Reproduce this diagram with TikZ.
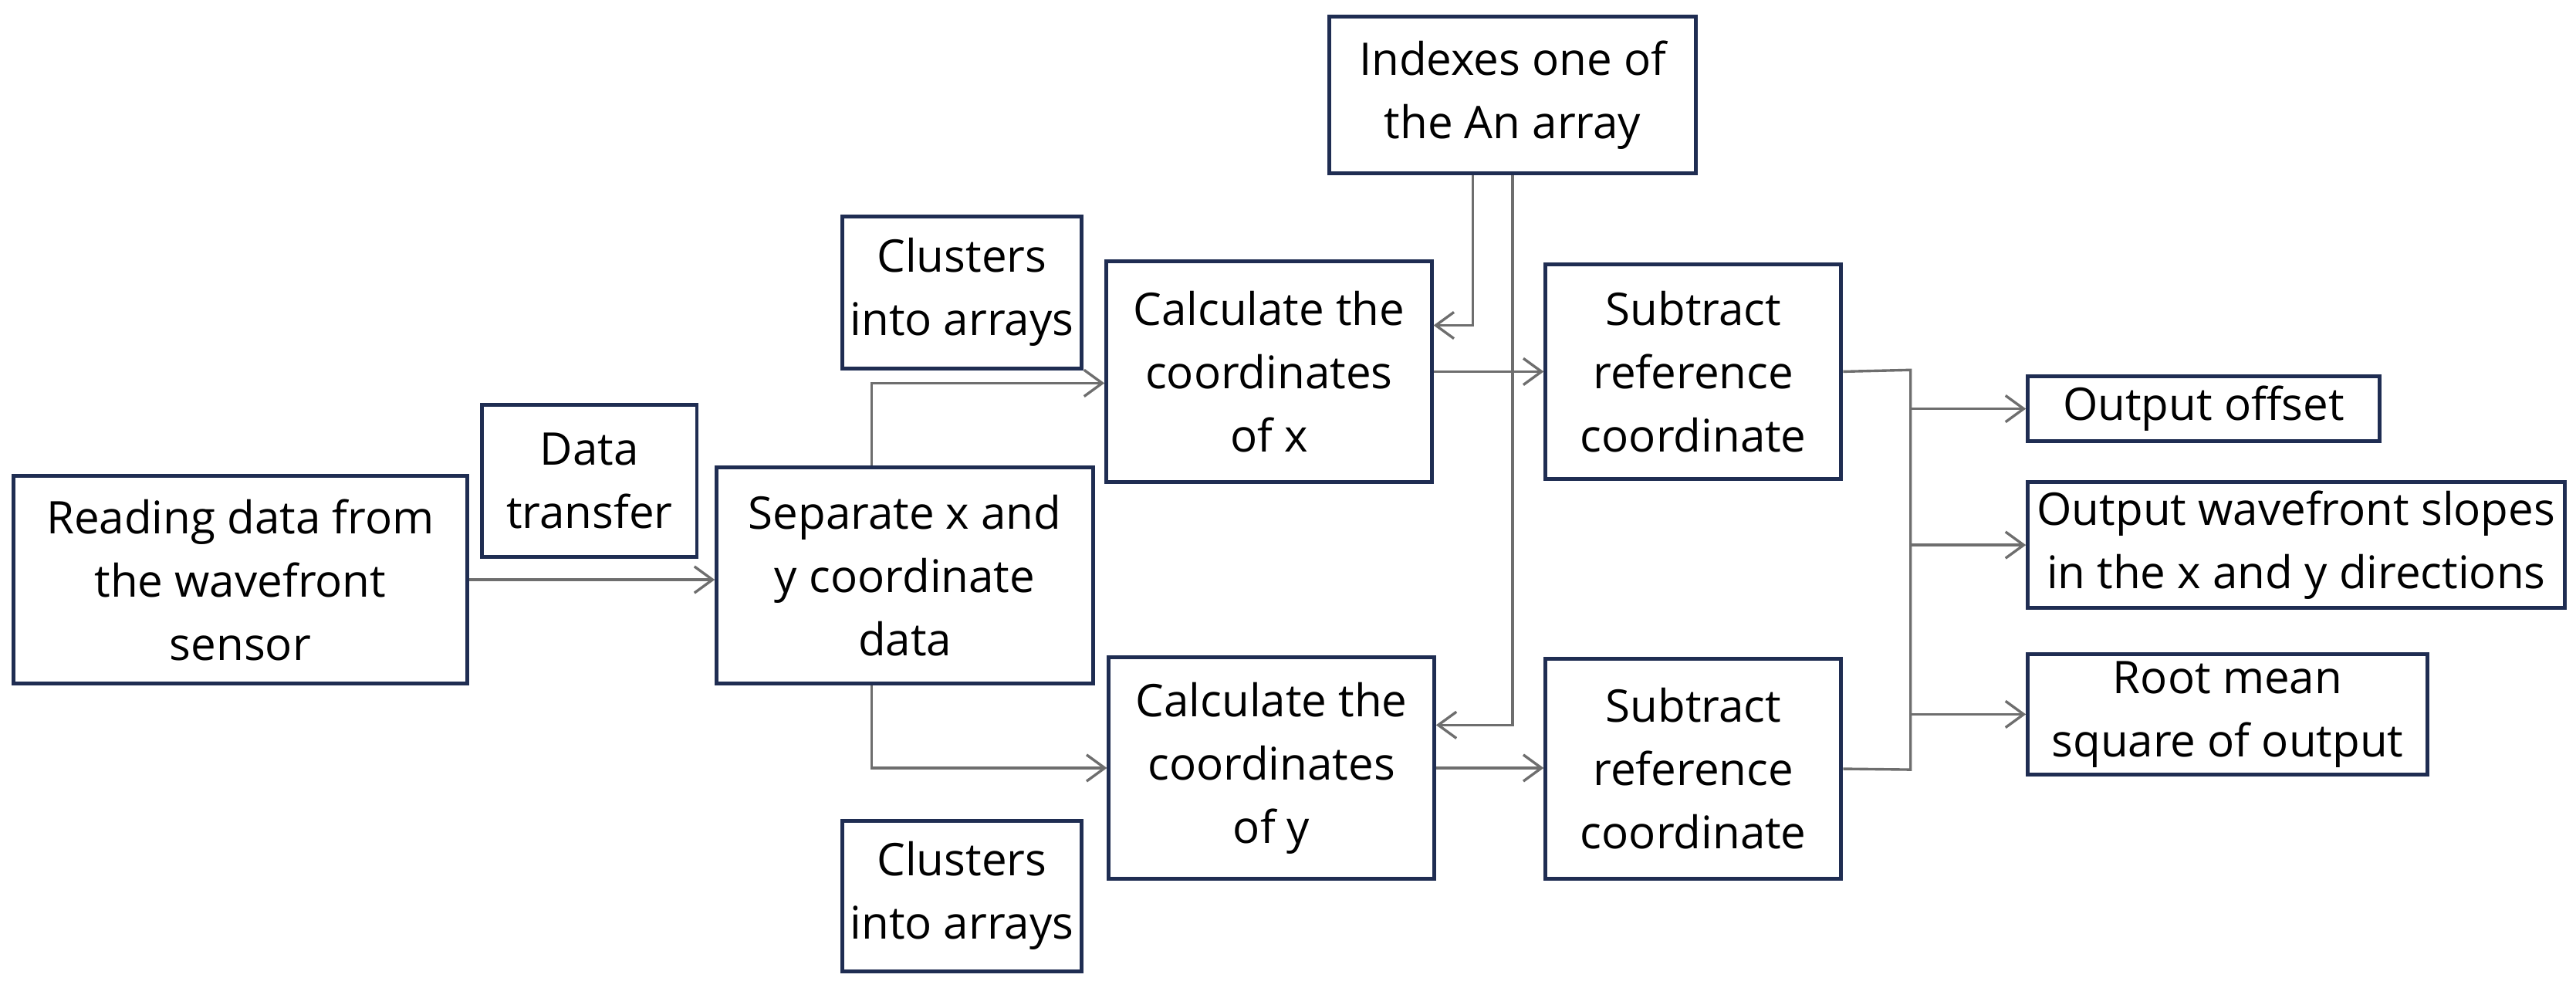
\documentclass[tikz,border=0pt]{standalone}
\usepackage{fontspec}
\setmainfont{Open Sans}
\usepackage{xcolor}
\usetikzlibrary{shapes, arrows.meta, positioning, calc}
\definecolor{boxline}{RGB}{31,45,82}
\definecolor{wire}{RGB}{110,110,110}

\begin{document}
\begin{tikzpicture}[
            box/.style={draw=boxline, line width=1.3pt, rectangle, align=center, inner sep=0pt,
                font=\fontsize{15.5}{21.8}\selectfont},
            wire/.style={draw=wire, line width=0.9pt},
            arr/.style={wire, -{Straight Barb[length=2.2mm, width=3.2mm]}}]
            \useasboundingbox (0,0) rectangle (31.2,-11.96);

            \node[box, minimum width=5.5cm, minimum height=2.52cm] (read) at (2.91,-7.02) {Reading data from\\the wavefront\\sensor};
            \node[box, minimum width=2.6cm, minimum height=1.84cm] (transfer) at (7.14,-5.82) {Data\\transfer};
            \node[box, minimum width=4.56cm, minimum height=2.62cm] (sep) at (10.96,-6.97) {Separate x and\\y coordinate\\data};
            \node[box, minimum width=2.9cm, minimum height=1.84cm] (clustx) at (11.65,-3.54) {Clusters\\into arrays};
            \node[box, minimum width=2.9cm, minimum height=1.82cm] (clusty) at (11.65,-10.85) {Clusters\\into arrays};
            \node[box, minimum width=3.94cm, minimum height=2.68cm] (calcx) at (15.37,-4.5) {Calculate the\\coordinates\\of x};
            \node[box, minimum width=3.94cm, minimum height=2.68cm] (calcy) at (15.4,-9.3) {Calculate the\\coordinates\\of y};
            \node[box, minimum width=4.44cm, minimum height=1.9cm] (index) at (18.32,-1.15) {Indexes one of\\the An array};
            \node[box, minimum width=3.58cm, minimum height=2.6cm] (subx) at (20.51,-4.5) {Subtract\\reference\\coordinate};
            \node[box, minimum width=3.58cm, minimum height=2.66cm] (suby) at (20.51,-9.31) {Subtract\\reference\\coordinate};
            \node[box, minimum width=4.26cm, minimum height=0.78cm] (offset) at (26.69,-4.95) {Output offset};
            \node[box, minimum width=6.5cm, minimum height=1.52cm] (slopes) at (27.81,-6.6) {Output wavefront slopes\\in the x and y directions};
            \node[box, minimum width=4.84cm, minimum height=1.46cm] (rms) at (26.98,-8.65) {Root mean\\square of output};

            \coordinate (bustop) at (23.14,-4.48);
            \coordinate (busbot) at (23.14,-9.32);

            \draw[arr] (read.east) -- (read.east -| sep.west);
            \draw[arr] ($(sep.north)+(-0.4,0)$) |- ([yshift=-0.14cm]calcx.west);
            \draw[arr] ($(sep.south)+(-0.4,0)$) |- (calcy.west);
            \draw[arr] ([xshift=-0.48cm]index.south) |- ([yshift=0.56cm]calcx.east);
            \draw[arr] (index.south) |- ([yshift=0.52cm]calcy.east);
            \draw[arr] (calcx.east) -- (calcx.east -| subx.west);
            \draw[arr] (calcy.east) -- (calcy.east -| suby.west);
            \draw[wire] (subx.east) -- (bustop) -- (busbot) -- (suby.east);
            \draw[arr] (bustop |- offset.west) -- (offset.west);
            \draw[arr] (bustop |- slopes.west) -- (slopes.west);
            \draw[arr] (bustop |- rms.west) -- (rms.west);
        \end{tikzpicture}
\end{document}
